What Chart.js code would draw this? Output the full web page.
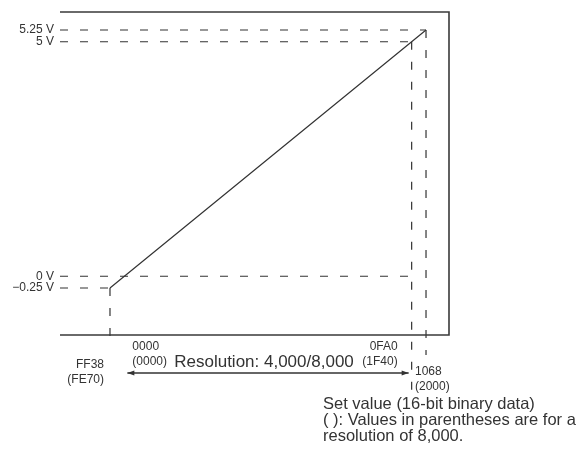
<!DOCTYPE html>
<html>
<head>
<meta charset="utf-8">
<script src="https://cdn.jsdelivr.net/npm/chart.js@4/dist/chart.umd.min.js"></script>
<style>
  html, body { margin: 0; padding: 0; background: #fff; }
  #wrap { width: 583px; height: 455px; }
</style>
</head>
<body>
<div id="wrap"><canvas id="c" width="583" height="455"></canvas></div>
<script>
// Set values (16-bit binary data, 4,000 resolution) and the matching output voltages
const setValues   = [-200, 0, 4000, 4200];
const hexLabels   = ['FF38', '0000', '0FA0', '1068'];
const hexLabels8k = ['(FE70)', '(0000)', '(1F40)', '(2000)'];
const voltages    = [-0.25, 0, 5, 5.25];
const voltLabels  = ['\u22120.25 V', '0 V', '5 V', '5.25 V'];

const resolutionText = 'Resolution: 4,000/8,000';
const noteLines = [
  'Set value (16-bit binary data)',
  '( ): Values in parentheses are for a',
  'resolution of 8,000.'
];

const INK = '#333';
const SMALL_FONT = '12px "Liberation Sans", Arial, sans-serif';

// Frame (top, right, bottom), dashed guides, and annotation text
const annotate = {
  id: 'annotate',
  beforeDatasetsDraw(chart) {
    const { ctx, chartArea: a, scales: { x, y } } = chart;
    ctx.save();
    // dashed guide lines
    ctx.strokeStyle = INK;
    ctx.lineWidth = 1.2;
    ctx.setLineDash([8, 12]);
    // how far each vertical guide runs below the frame (0 = none)
    const drop = [6, 0, 58, 20];
    setValues.forEach((v, i) => {
      const px = x.getPixelForValue(v);
      const py = y.getPixelForValue(voltages[i]);
      // horizontal guide: from left edge to the guide column of this level
      let endX = px;
      if (i === 1) endX = x.getPixelForValue(setValues[2]);
      ctx.beginPath();
      ctx.moveTo(a.left, py);
      ctx.lineTo(endX, py);
      ctx.stroke();
      if (drop[i] > 0) {
        ctx.beginPath();
        ctx.moveTo(px, py);
        ctx.lineTo(px, a.bottom + drop[i]);
        ctx.stroke();
      }
    });
    ctx.setLineDash([]);
    // frame
    ctx.lineWidth = 1.6;
    ctx.strokeStyle = '#3a3a3a';
    ctx.beginPath();
    ctx.moveTo(a.left, a.top);
    ctx.lineTo(a.right, a.top);
    ctx.lineTo(a.right, a.bottom);
    ctx.lineTo(a.left, a.bottom);
    ctx.stroke();
    ctx.restore();
  },
  afterDraw(chart) {
    const { ctx, chartArea: a, scales: { x, y } } = chart;
    ctx.save();
    ctx.fillStyle = INK;
    ctx.strokeStyle = INK;
    ctx.font = SMALL_FONT;
    ctx.textBaseline = 'middle';

    // voltage labels
    ctx.textAlign = 'right';
    voltages.forEach((v, i) => {
      ctx.fillText(voltLabels[i], a.left - 6, y.getPixelForValue(v));
    });

    // set value labels below the frame
    const px = setValues.map(v => x.getPixelForValue(v));
    const b = a.bottom;
    // FF38
    ctx.textAlign = 'right';
    ctx.fillText(hexLabels[0], px[0] - 6, b + 30);
    ctx.fillText(hexLabels8k[0], px[0] - 6, b + 45);
    // 0000
    ctx.textAlign = 'left';
    ctx.fillText(hexLabels[1], px[1] + 8, b + 12);
    ctx.fillText(hexLabels8k[1], px[1] + 8, b + 27);
    // 0FA0
    ctx.textAlign = 'right';
    ctx.fillText(hexLabels[2], px[2] - 14, b + 12);
    ctx.fillText(hexLabels8k[2], px[2] - 14, b + 27);
    // 1068
    ctx.textAlign = 'left';
    ctx.fillText(hexLabels[3], px[3] - 11, b + 37);
    ctx.fillText(hexLabels8k[3], px[3] - 11, b + 52);

    // resolution arrow between 0000 and 0FA0
    const ay = b + 38;
    const x0 = px[1] + 3, x1 = px[2] - 3;
    ctx.lineWidth = 1.3;
    ctx.beginPath();
    ctx.moveTo(x0, ay);
    ctx.lineTo(x1, ay);
    ctx.stroke();
    ctx.beginPath();
    ctx.moveTo(x0, ay); ctx.lineTo(x0 + 7, ay - 2.5); ctx.lineTo(x0 + 7, ay + 2.5); ctx.closePath();
    ctx.moveTo(x1, ay); ctx.lineTo(x1 - 7, ay - 2.5); ctx.lineTo(x1 - 7, ay + 2.5); ctx.closePath();
    ctx.fill();

    ctx.font = '17px "Liberation Sans", Arial, sans-serif';
    ctx.textAlign = 'center';
    ctx.fillText(resolutionText, (x0 + x1) / 2 - 4, b + 27);

    // note text
    ctx.font = '16.5px "Liberation Sans", Arial, sans-serif';
    ctx.textAlign = 'left';
    noteLines.forEach((t, i) => {
      ctx.fillText(t, 323, b + 69 + i * 16);
    });
    ctx.restore();
  }
};

new Chart(document.getElementById('c'), {
  type: 'scatter',
  data: {
    datasets: [{
      data: setValues.map((v, i) => ({ x: v, y: voltages[i] })),
      showLine: true,
      borderColor: INK,
      borderWidth: 1.2,
      pointRadius: 0,
      fill: false
    }]
  },
  options: {
    responsive: false,
    animation: false,
    layout: { padding: { left: 60, top: 12, right: 134, bottom: 120 } },
    plugins: { legend: { display: false }, tooltip: { enabled: false } },
    scales: {
      x: { type: 'linear', display: false, min: -896, max: 4520 },
      y: { type: 'linear', display: false, min: -1.252, max: 5.634 }
    }
  },
  plugins: [annotate]
});
</script>
</body>
</html>
